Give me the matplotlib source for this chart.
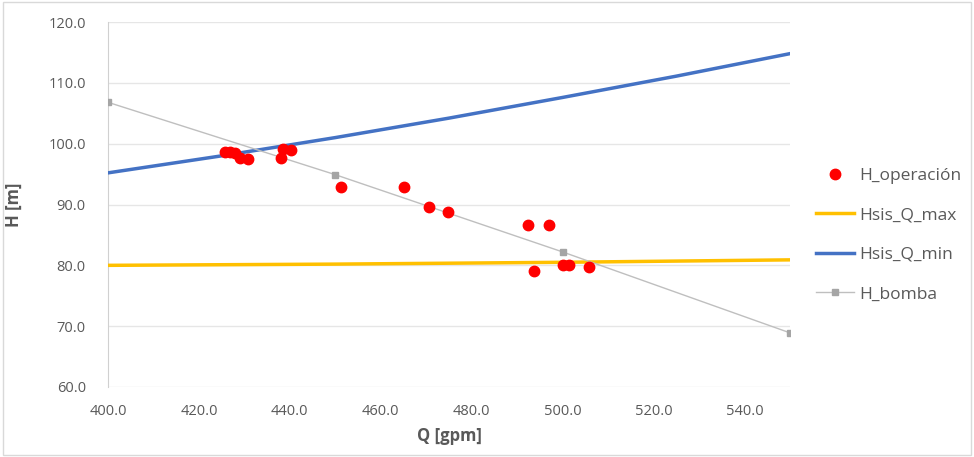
import numpy as np
import matplotlib.pyplot as plt

# operating points
q_op = [425.8, 426.9, 428.0, 429.1, 430.9, 438.0, 438.4, 440.2, 451.2, 465.1,
        470.6, 474.8, 492.3, 496.9, 493.8, 500.0, 501.4, 505.7]
h_op = [98.7, 98.7, 98.5, 97.7, 97.5, 97.7, 99.2, 99.0, 92.9, 92.9,
        89.6, 88.8, 86.6, 86.6, 79.1, 80.1, 80.1, 79.7]

# system curves
q_sis = [400, 425, 450, 475, 500, 525, 550]
h_sis_max = [80.0, 80.1, 80.2, 80.35, 80.5, 80.7, 80.9]
h_sis_min = [95.2, 98.0, 101.0, 104.2, 107.6, 111.1, 114.8]

# pump curve
q_bomba = [400, 450, 500, 550]
h_bomba = [106.8, 94.9, 82.2, 68.9]

plt.rcParams['font.family'] = ['Open Sans', 'DejaVu Sans']
txt = '#595959'

fig = plt.figure(figsize=(9.74, 4.57), dpi=100)
ax = fig.add_axes([108/974, 1-387/457, (790-108)/974, (387-22)/457])

ax.plot(q_op, h_op, 'o', color='#ff0000', ms=7.5, label='H_operación', zorder=5)
ax.plot(q_sis, h_sis_max, color='#ffc000', lw=2.5, label='Hsis_Q_max', zorder=3)
ax.plot(q_sis, h_sis_min, color='#4472c4', lw=2.5, label='Hsis_Q_min', zorder=3)
ax.plot(q_bomba, h_bomba, color='#bfbfbf', lw=1, marker='s', ms=4,
        mfc='#a5a5a5', mec='#a5a5a5', label='H_bomba', zorder=4)

ax.set_xlim(400, 550)
ax.set_ylim(60, 120)
ax.set_xticks(np.arange(400, 541, 20))
ax.set_yticks(np.arange(60, 121, 10))
ax.xaxis.set_major_formatter('{x:.1f}')
ax.yaxis.set_major_formatter('{x:.1f}')
ax.tick_params(length=0, colors=txt, labelsize=10.5)
ax.tick_params(axis='y', pad=16)
ax.tick_params(axis='x', pad=12)
ax.grid(axis='y', color='#e6e6e6', lw=1)
ax.set_axisbelow(True)
for s in ['top', 'right', 'bottom']:
    ax.spines[s].set_visible(False)
ax.spines['left'].set_color('#d0d0d0')

ax.set_xlabel('Q [gpm]', fontweight='bold', color=txt, fontsize=12, labelpad=6)
ax.set_ylabel('H [m]', fontweight='bold', color=txt, fontsize=12, labelpad=18)

fig.legend(loc='upper left', bbox_to_anchor=(800/974, 1-152/457), frameon=False,
           fontsize=12.5, labelcolor=txt, handlelength=2.2, labelspacing=1.35,
           handletextpad=0.3)

fig.patches.append(plt.Rectangle((0.003, 0.005), 0.994, 0.99, transform=fig.transFigure,
                                 fill=False, ec='#d9d9d9', lw=1))

fig.savefig('out.png', dpi=100)
